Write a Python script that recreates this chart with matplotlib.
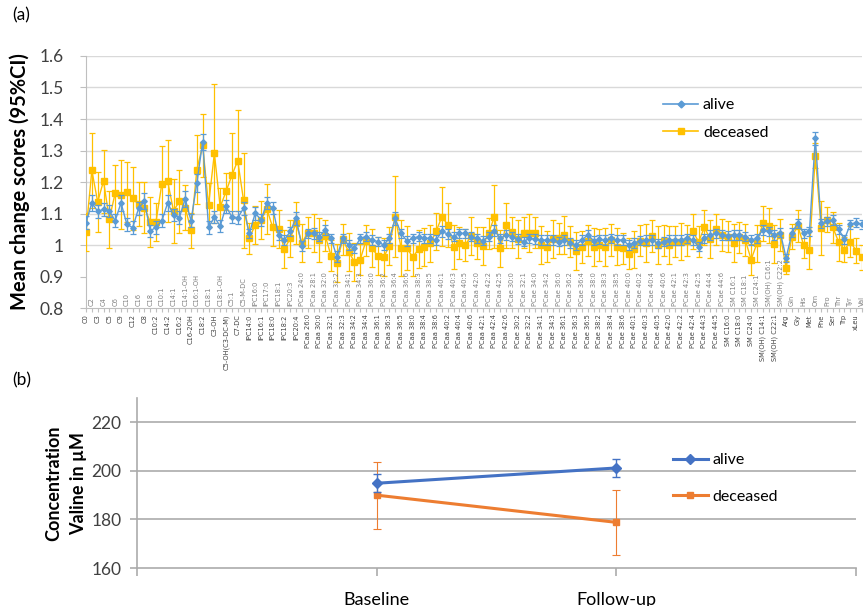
import numpy as np
import matplotlib
matplotlib.use("Agg")
import matplotlib.pyplot as plt
from matplotlib.lines import Line2D
from matplotlib.transforms import blended_transform_factory

plt.rcParams['font.family'] = ['Lato', 'DejaVu Sans']

# ---- panel (a): metabolite categories ----
acyl = ["C0", "C2", "C3", "C4", "C5", "C6", "C9", "C10", "C12", "C16", "C8", "C18",
        "C10:2", "C10:1", "C14:2", "C14:1", "C16:2", "C14:1-OH", "C16-2OH", "C16:1-OH",
        "C18:2", "C18:1", "C3-OH", "C18:1-OH", "C5-OH(C3-DC-M)", "C5:1", "C7-DC", "C5-M-DC"]
lyso = ["lPC14:0", "lPC16:0", "lPC16:1", "lPC17:0", "lPC18:0", "lPC18:1", "lPC18:2",
        "lPC20:3", "lPC20:4"]
pcaa = ["PCaa 24:0", "PCaa 26:0", "PCaa 28:1", "PCaa 30:0", "PCaa 32:0", "PCaa 32:1",
        "PCaa 32:2", "PCaa 32:3", "PCaa 34:1", "PCaa 34:2", "PCaa 34:3", "PCaa 34:4",
        "PCaa 36:0", "PCaa 36:1", "PCaa 36:2", "PCaa 36:3", "PCaa 36:4", "PCaa 36:5",
        "PCaa 36:6", "PCaa 38:0", "PCaa 38:3", "PCaa 38:4", "PCaa 38:5", "PCaa 38:6",
        "PCaa 40:1", "PCaa 40:2", "PCaa 40:3", "PCaa 40:4", "PCaa 40:5", "PCaa 40:6",
        "PCaa 42:0", "PCaa 42:1", "PCaa 42:2", "PCaa 42:4", "PCaa 42:5", "PCaa 42:6"]
pcae = ["PCae 30:0", "PCae 30:2", "PCae 32:1", "PCae 32:2", "PCae 34:0", "PCae 34:1",
        "PCae 34:2", "PCae 34:3", "PCae 36:0", "PCae 36:1", "PCae 36:2", "PCae 36:3",
        "PCae 36:4", "PCae 36:5", "PCae 38:0", "PCae 38:2", "PCae 38:3", "PCae 38:4",
        "PCae 38:5", "PCae 38:6", "PCae 40:0", "PCae 40:1", "PCae 40:2", "PCae 40:3",
        "PCae 40:4", "PCae 40:5", "PCae 40:6", "PCae 42:0", "PCae 42:1", "PCae 42:2",
        "PCae 42:3", "PCae 42:4", "PCae 42:5", "PCae 44:3", "PCae 44:4", "PCae 44:5",
        "PCae 44:6"]
sm = ["SM C16:0", "SM C16:1", "SM C18:0", "SM C18:1", "SM C24:0", "SM C24:1",
      "SM(OH) C14:1", "SM(OH) C16:1", "SM(OH) C22:1", "SM(OH) C22:2"]
aa = ["Arg", "Gln", "Gly", "His", "Met", "Orn", "Phe", "Pro", "Ser", "Thr", "Trp", "Tyr",
      "xLeu", "Val"]
metabolites = acyl + lyso + pcaa + pcae + sm + aa

alive = [1.071, 1.134, 1.107, 1.113, 1.108, 1.077, 1.134, 1.066, 1.055, 1.116, 1.14, 1.045,
         1.056, 1.077, 1.134, 1.095, 1.087, 1.147, 1.077, 1.197, 1.328, 1.056, 1.089, 1.06,
         1.123, 1.089, 1.087, 1.116,
         1.037, 1.101, 1.08, 1.133, 1.117, 1.032, 1.016, 1.043, 1.085,
         0.997, 1.037, 1.037, 1.027, 1.048, 1.021, 0.963, 1.021, 1.0, 0.989,
         1.021, 1.027, 1.016, 1.011, 1.0, 1.021, 1.085, 1.037, 1.013, 1.021,
         1.027, 1.021, 1.021, 1.016, 1.043, 1.035, 1.027, 1.037, 1.037, 1.027,
         1.021, 1.014, 1.027, 1.046, 1.021, 1.032,
         1.027, 1.019, 1.011, 1.021, 1.019, 1.016, 1.016, 1.016,
         1.011, 1.016, 1.007, 1.0, 1.016, 1.032, 1.014, 1.018, 1.016, 1.021,
         1.016, 1.016, 1.0, 1.007, 1.014, 1.016, 1.016, 1.005, 1.011, 1.016,
         1.016, 1.016, 1.021, 1.016, 0.995, 1.021, 1.032, 1.037, 1.032,
         1.03, 1.032, 1.032, 1.027, 1.016, 1.021, 1.048, 1.043, 1.032, 1.039,
         0.959, 1.039, 1.069, 1.037, 1.043, 1.339, 1.069, 1.075, 1.08, 1.05, 1.018, 1.066,
         1.071, 1.066]
alive_ci = [0.02, 0.025, 0.02, 0.02, 0.02, 0.02, 0.025, 0.02, 0.02, 0.02, 0.025, 0.02,
            0.02, 0.02, 0.025, 0.02, 0.02, 0.025, 0.02, 0.03, 0.025, 0.02, 0.02, 0.02,
            0.02, 0.02, 0.02, 0.02,
            0.015, 0.02, 0.02, 0.02, 0.02, 0.015, 0.015, 0.015, 0.02,
            0.015, 0.015, 0.018, 0.015, 0.015, 0.015, 0.018, 0.015, 0.015, 0.015,
            0.015, 0.015, 0.015, 0.015, 0.015, 0.015, 0.02, 0.015, 0.015, 0.015,
            0.015, 0.015, 0.015, 0.015, 0.018, 0.015, 0.015, 0.015, 0.015, 0.015,
            0.015, 0.015, 0.015, 0.018, 0.015, 0.015,
            0.015, 0.015, 0.015, 0.015, 0.015, 0.015, 0.015, 0.015,
            0.015, 0.015, 0.015, 0.015, 0.015, 0.015, 0.015, 0.015, 0.015, 0.015,
            0.015, 0.015, 0.015, 0.015, 0.015, 0.015, 0.015, 0.015, 0.015, 0.015,
            0.015, 0.015, 0.015, 0.015, 0.015, 0.015, 0.015, 0.015, 0.015,
            0.015, 0.015, 0.015, 0.015, 0.015, 0.015, 0.015, 0.015, 0.015, 0.015,
            0.012, 0.015, 0.015, 0.015, 0.015, 0.02, 0.015, 0.015, 0.015, 0.015, 0.015,
            0.015, 0.015, 0.015]
deceased = [1.042, 1.237, 1.137, 1.203, 1.082, 1.165, 1.16, 1.168, 1.149, 1.129, 1.119, 1.074,
            1.074, 1.195, 1.202, 1.108, 1.139, 1.119, 1.047, 1.239, 1.317, 1.126, 1.291, 1.121,
            1.17, 1.221, 1.268, 1.142,
            1.021, 1.064, 1.08, 1.114, 1.056, 1.051, 0.987, 1.021, 1.069,
            1.007, 1.039, 1.039, 1.016, 1.03, 0.966, 0.944, 1.018, 0.979, 0.947,
            0.954, 1.014, 0.991, 0.965, 0.961, 0.997, 1.09, 0.991, 0.991, 0.961,
            0.987, 0.993, 1.005, 1.043, 1.09, 1.064, 0.993, 1.007, 1.0, 1.029,
            1.007, 0.997, 1.037, 1.09, 0.989, 1.062,
            1.04, 1.018, 1.039, 1.039, 1.039, 1.0, 0.995, 1.018,
            1.021, 1.032, 1.011, 0.982, 0.993, 1.014, 0.993, 1.0, 0.993, 1.016,
            0.995, 0.989, 0.973, 0.986, 1.014, 1.007, 1.029, 1.0, 1.014, 1.0,
            1.011, 1.011, 1.014, 1.043, 1.011, 1.056, 1.018, 1.05, 1.032,
            1.027, 1.007, 1.024, 1.016, 0.954, 1.005, 1.069, 1.061, 1.003, 1.032,
            0.928, 1.027, 1.061, 1.0, 0.984, 1.283, 1.054, 1.08, 1.056, 1.01, 0.985, 1.011,
            0.982, 0.961]
deceased_ci = [0.06, 0.12, 0.095, 0.10, 0.09, 0.09, 0.11, 0.095, 0.10, 0.07, 0.08, 0.08,
               0.06, 0.12, 0.13, 0.10, 0.10, 0.07, 0.055, 0.11, 0.10, 0.07, 0.22, 0.06,
               0.06, 0.135, 0.16, 0.15,
               0.05, 0.06, 0.06, 0.08, 0.06, 0.06, 0.06, 0.06, 0.067,
               0.06, 0.05, 0.06, 0.07, 0.05, 0.05, 0.06, 0.05, 0.06, 0.06,
               0.05, 0.05, 0.06, 0.06, 0.06, 0.06, 0.128, 0.09, 0.07, 0.06,
               0.06, 0.06, 0.06, 0.06, 0.094, 0.07, 0.07, 0.05, 0.05, 0.06,
               0.05, 0.06, 0.05, 0.10, 0.06, 0.07,
               0.05, 0.06, 0.05, 0.06, 0.05, 0.06, 0.05, 0.06,
               0.05, 0.06, 0.05, 0.06, 0.05, 0.05, 0.06, 0.05, 0.06, 0.05,
               0.06, 0.05, 0.05, 0.06, 0.05, 0.06, 0.05, 0.06, 0.05, 0.06,
               0.05, 0.06, 0.05, 0.055, 0.05, 0.055, 0.06, 0.05, 0.05,
               0.05, 0.06, 0.05, 0.05, 0.05, 0.06, 0.056, 0.055, 0.06, 0.05,
               0.02, 0.04, 0.05, 0.04, 0.06, 0.04, 0.085, 0.04, 0.05, 0.06, 0.04, 0.05,
               0.04, 0.04]

# ---- panel (b): valine ----
timepoints = ["Baseline", "Follow-up"]
valine_alive = [194.9, 201.2]
valine_alive_ci = [3.7, 3.6]
valine_deceased = [190.0, 178.8]
valine_deceased_ci = [13.8, 13.4]

BLUE_A = '#5B9BD5'
GOLD = '#FFC000'
BLUE_B = '#4472C4'
ORANGE = '#ED7D31'
TXT = '#404040'

fig = plt.figure(figsize=(8.67, 6.06), dpi=100)

# ================= (a) =================
ax = fig.add_axes([0.0992, 0.4917, 0.8950, 0.4159])
x = np.arange(len(metabolites))

ax.errorbar(x, deceased, yerr=deceased_ci, color=GOLD, marker='s', ms=4.3, lw=1.0,
            elinewidth=0.9, capsize=2.2, capthick=0.9, zorder=3)
ax.errorbar(x, alive, yerr=alive_ci, color=BLUE_A, marker='D', ms=2.8, lw=1.0,
            elinewidth=0.9, capsize=2.0, capthick=0.9, zorder=4)

ax.set_xlim(0, len(metabolites) - 1)
ax.set_ylim(0.8, 1.6)
ax.set_yticks(np.arange(0.8, 1.61, 0.1))
ax.set_yticklabels(["0.8", "0.9", "1", "1.1", "1.2", "1.3", "1.4", "1.5", "1.6"],
                   fontsize=12.5, color=TXT)
for g in [1.0, 1.1, 1.2, 1.3, 1.4, 1.5, 1.6]:
    ax.axhline(g, color='#D9D9D9', lw=1.0, zorder=1)

for s in ['top', 'right']:
    ax.spines[s].set_visible(False)
for s in ['left', 'bottom']:
    ax.spines[s].set_color('#BFBFBF')
ax.tick_params(axis='y', length=4, color='#BFBFBF', pad=12)

ax.set_xticks(x)
ax.set_xticklabels([m if i % 2 == 0 else '' for i, m in enumerate(metabolites)],
                   rotation=90, fontsize=4.8, color=TXT, family='DejaVu Sans')
ax.tick_params(axis='x', length=3, color='#BFBFBF', pad=1.5)
trans = blended_transform_factory(ax.transData, ax.transAxes)
for i, m in enumerate(metabolites):
    if i % 2 == 1:
        ax.text(i, 0.008, m, rotation=90, ha='center', va='bottom', fontsize=4.8,
                color='#7F7F7F', family='DejaVu Sans', transform=trans)

ax.set_ylabel("Mean change scores (95%CI)", fontsize=14.5, fontweight='bold', labelpad=7)

leg_a = [Line2D([], [], color=BLUE_A, marker='D', ms=3.5, lw=1.2),
         Line2D([], [], color=GOLD, marker='s', ms=5, lw=1.2)]
ax.legend(leg_a, ['alive', 'deceased'], loc='upper left', bbox_to_anchor=(0.725, 0.89),
          frameon=False, fontsize=11.5, labelspacing=0.85, handlelength=2.2,
          handletextpad=0.3)

fig.text(0.014, 0.975, "(a)", fontsize=12.5, va='center', ha='left')

# ================= (b) =================
bx = fig.add_axes([0.158, 0.0627, 0.8293, 0.2805])
xb = [1, 2]
bx.errorbar(xb, valine_deceased, yerr=valine_deceased_ci, color=ORANGE, marker='s', ms=5,
            lw=2.2, elinewidth=0.8, capsize=3, capthick=0.8, zorder=3)
bx.errorbar(xb, valine_alive, yerr=valine_alive_ci, color=BLUE_B, marker='D', ms=5,
            lw=2.2, elinewidth=1.0, capsize=3, capthick=1.0, zorder=4)
bx.set_xlim(0, 3)
bx.set_ylim(160, 230)
bx.set_yticks([160, 180, 200, 220])
bx.set_yticklabels(["160", "180", "200", "220"], fontsize=12.5, color=TXT)
for g in [180, 200, 220]:
    bx.axhline(g, color='#ABABAB', lw=1.2, zorder=1)
for s in ['top', 'right']:
    bx.spines[s].set_visible(False)
for s in ['left', 'bottom']:
    bx.spines[s].set_color('#ABABAB')
    bx.spines[s].set_linewidth(1.2)
bx.tick_params(axis='y', length=5, color='#ABABAB', width=1.2, pad=6)
bx.set_xticks([0, 1, 2, 3])
bx.set_xticklabels(["", timepoints[0], timepoints[1], ""], fontsize=13, color='black')
bx.tick_params(axis='x', length=6, color='#ABABAB', width=1.2, pad=11)

bx.set_ylabel("Concentration\nValine in µM", fontsize=13, fontweight='bold', labelpad=3,
              linespacing=1.6)

leg_b = [Line2D([], [], color=BLUE_B, marker='D', ms=5, lw=2.2),
         Line2D([], [], color=ORANGE, marker='s', ms=5, lw=2.2)]
bx.legend(leg_b, ['alive', 'deceased'], loc='upper left', bbox_to_anchor=(0.725, 0.76),
          frameon=False, fontsize=11.5, labelspacing=1.4, handlelength=2.2,
          handletextpad=0.3)

fig.text(0.014, 0.372, "(b)", fontsize=12.5, va='center', ha='left')

fig.savefig("out.png", dpi=100)
